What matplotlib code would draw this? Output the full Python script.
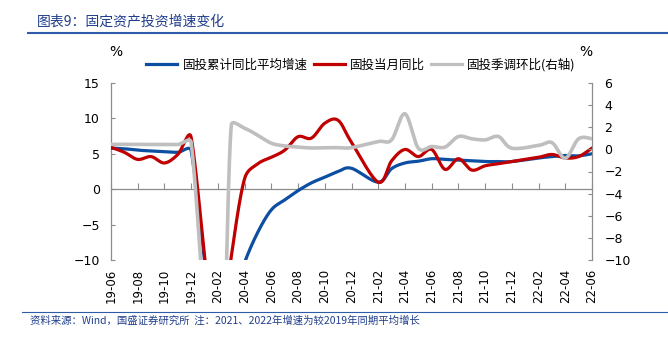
import numpy as np
import matplotlib
matplotlib.use('Agg')
import matplotlib.pyplot as plt
from matplotlib.lines import Line2D

plt.rcParams['font.family'] = ['Noto Sans CJK SC', 'DejaVu Sans']

# ---------------- data (Jan is merged into Feb, so no January points) ----------------
months = ['19-06', '19-07', '19-08', '19-09', '19-10', '19-11', '19-12',
          '20-02', '20-03', '20-04', '20-05', '20-06', '20-07', '20-08', '20-09', '20-10', '20-11', '20-12',
          '21-02', '21-03', '21-04', '21-05', '21-06', '21-07', '21-08', '21-09', '21-10', '21-11', '21-12',
          '22-02', '22-03', '22-04', '22-05', '22-06']

cum_avg = [5.8, 5.7, 5.5, 5.4, 5.3, 5.2, 5.4,
           -24.5, -16.1, -10.3, -6.0, -2.9, -1.5, -0.2, 0.9, 1.7, 2.5, 2.95,
           1.0, 2.9, 3.7, 3.95, 4.3, 4.2, 4.1, 4.0, 3.9, 3.9, 3.9,
           4.4, 4.6, 4.75, 4.7, 5.0]

monthly = [5.9, 5.2, 4.2, 4.6, 3.7, 4.9, 7.3,
           -24.5, -9.5, 1.5, 3.6, 4.5, 5.5, 7.4, 7.2, 9.3, 9.7, 6.6,
           1.0, 4.0, 5.6, 4.6, 5.6, 2.8, 4.3, 2.7, 3.3, 3.6, 3.9,
           4.5, 4.9, 4.4, 4.6, 5.8]

qoq_sa = [0.45, 0.45, 0.44, 0.44, 0.43, 0.43, 0.6,
          -27.0, 2.15, 1.9, 1.25, 0.55, 0.3, 0.2, 0.12, 0.15, 0.15, 0.15,
          0.7, 0.85, 3.2, 0.1, 0.25, 0.2, 1.15, 0.95, 0.85, 1.15, 0.1,
          0.35, 0.6, -0.8, 0.95, 0.95]

tick_labels = ['19-06', '19-08', '19-10', '19-12', '20-02', '20-04', '20-06', '20-08',
               '20-10', '20-12', '21-02', '21-04', '21-06', '21-08', '21-10', '21-12',
               '22-02', '22-04', '22-06']

series_names = ['固投累计同比平均增速', '固投当月同比', '固投季调环比(右轴)']
colors = ['#0b4ea2', '#c00000', '#bfbfbf']


def month_pos(m):
    yy, mm = m.split('-')
    return (int(yy) - 19) * 12 + int(mm) - 6


x = np.array([month_pos(m) for m in months], float)
tick_pos = [month_pos(m) for m in tick_labels]

W, H = 668, 340
fig = plt.figure(figsize=(W / 100, H / 100), dpi=100)

L, R, T, B = 111, 592, 82.7, 260.3
ax = fig.add_axes([L / W, 1 - B / H, (R - L) / W, (B - T) / H])
ax2 = ax.twinx()
ax.set_xlim(0, 36)
ax.set_ylim(-10, 15)
ax2.set_ylim(-10, 6)


def excel_smooth(a, xs, ys, n=40):
    """Excel-like smoothed line: Bezier segments computed in display space."""
    pts = a.transData.transform(np.column_stack([xs, ys]))
    m = len(pts)
    out = [pts[0:1]]
    for k in range(m - 1):
        p0 = pts[max(k - 1, 0)]
        p1 = pts[k]
        p2 = pts[k + 1]
        p3 = pts[min(k + 2, m - 1)]
        d12 = np.hypot(*(p2 - p1))
        t1 = p2 - p0
        n1 = np.hypot(*t1)
        t2 = p3 - p1
        n2 = np.hypot(*t2)
        h1 = min(n1 / 6, d12 / 2)
        h2 = min(n2 / 6, d12 / 2)
        c1 = p1 + (t1 / n1 * h1 if n1 > 0 else 0)
        c2 = p2 - (t2 / n2 * h2 if n2 > 0 else 0)
        t = np.linspace(0, 1, n)[1:, None]
        seg = (1 - t) ** 3 * p1 + 3 * (1 - t) ** 2 * t * c1 + 3 * (1 - t) * t ** 2 * c2 + t ** 3 * p2
        out.append(seg)
    P = np.vstack(out)
    return ax.transData.inverted().transform(P) if a is ax else a.transData.inverted().transform(P)


lw = 2.3
s1 = excel_smooth(ax, x, cum_avg)
s2 = excel_smooth(ax, x, monthly)
s3 = excel_smooth(ax2, x, qoq_sa)
ax.plot(s1[:, 0], s1[:, 1], color=colors[0], lw=lw, solid_capstyle='round', zorder=3)
ax.plot(s2[:, 0], s2[:, 1], color=colors[1], lw=lw, solid_capstyle='round', zorder=4)
ax2.plot(s3[:, 0], s3[:, 1], color=colors[2], lw=2.6, solid_capstyle='round', zorder=3)

spine_c = '#8c8c8c'
# left axis
for s in ['top', 'right']:
    ax.spines[s].set_visible(False)
ax.spines['left'].set_color(spine_c)
ax.spines['left'].set_linewidth(0.9)
ax.spines['bottom'].set_position(('data', 0))
ax.spines['bottom'].set_color(spine_c)
ax.spines['bottom'].set_linewidth(0.9)
ax.set_yticks([-10, -5, 0, 5, 10, 15])
ax.tick_params(axis='y', direction='in', length=3, color=spine_c, pad=8, labelsize=9)
for lab in ax.get_yticklabels():
    lab.set_fontfamily('DejaVu Sans')
ax.set_xticks(tick_pos)
ax.tick_params(axis='x', direction='in', length=4, color=spine_c, labelbottom=False)

# x labels at the bottom of the plot area
sec = ax.secondary_xaxis('bottom')
sec.set_xticks(tick_pos)
sec.set_xticklabels(tick_labels, rotation=90, fontsize=8.5, family=['Liberation Sans Narrow', 'DejaVu Sans'])
sec.tick_params(length=0, pad=6)
sec.spines['bottom'].set_visible(False)

# right axis
for s in ['top', 'left', 'bottom']:
    ax2.spines[s].set_visible(False)
ax2.spines['right'].set_color(spine_c)
ax2.spines['right'].set_linewidth(0.9)
ax2.set_yticks(np.arange(-10, 7, 2))
ax2.tick_params(axis='y', direction='in', length=3, color=spine_c, pad=9, labelsize=9)
for lab in ax2.get_yticklabels():
    lab.set_fontfamily('DejaVu Sans')

# unit labels
fig.text(116 / W, 1 - 52 / H, '%', fontsize=10, family='DejaVu Sans', ha='center', va='center')
fig.text(586 / W, 1 - 52 / H, '%', fontsize=10, family='DejaVu Sans', ha='center', va='center')

# legend
handles = [Line2D([], [], color=c, lw=2.3) for c in colors]
fig.legend(handles, series_names, loc='center', bbox_to_anchor=(361 / W, 1 - 65 / H), ncol=3,
           frameon=False, fontsize=9, handlelength=2.5, handletextpad=0.4, columnspacing=0.5,
           borderpad=0, borderaxespad=0)

# title and footer
title_c = '#203d8c'
fig.text(37 / W, 1 - 21 / H, '图表9：固定资产投资增速变化', fontsize=10, color=title_c,
         ha='left', va='center', style='italic')
fig.add_artist(Line2D([28 / W, 1], [1 - 33 / H, 1 - 33 / H], color='#2f5ca8', lw=1.5))
fig.add_artist(Line2D([22 / W, 1], [1 - 311.5 / H, 1 - 311.5 / H], color='#2f5ca8', lw=0.8))
fig.text(30 / W, 1 - 321 / H, '资料来源：Wind，国盛证券研究所  注：2021、2022年增速为较2019年同期平均增长',
         fontsize=7.5, color=title_c, ha='left', va='center', style='italic')

fig.savefig('out.png', dpi=100)
